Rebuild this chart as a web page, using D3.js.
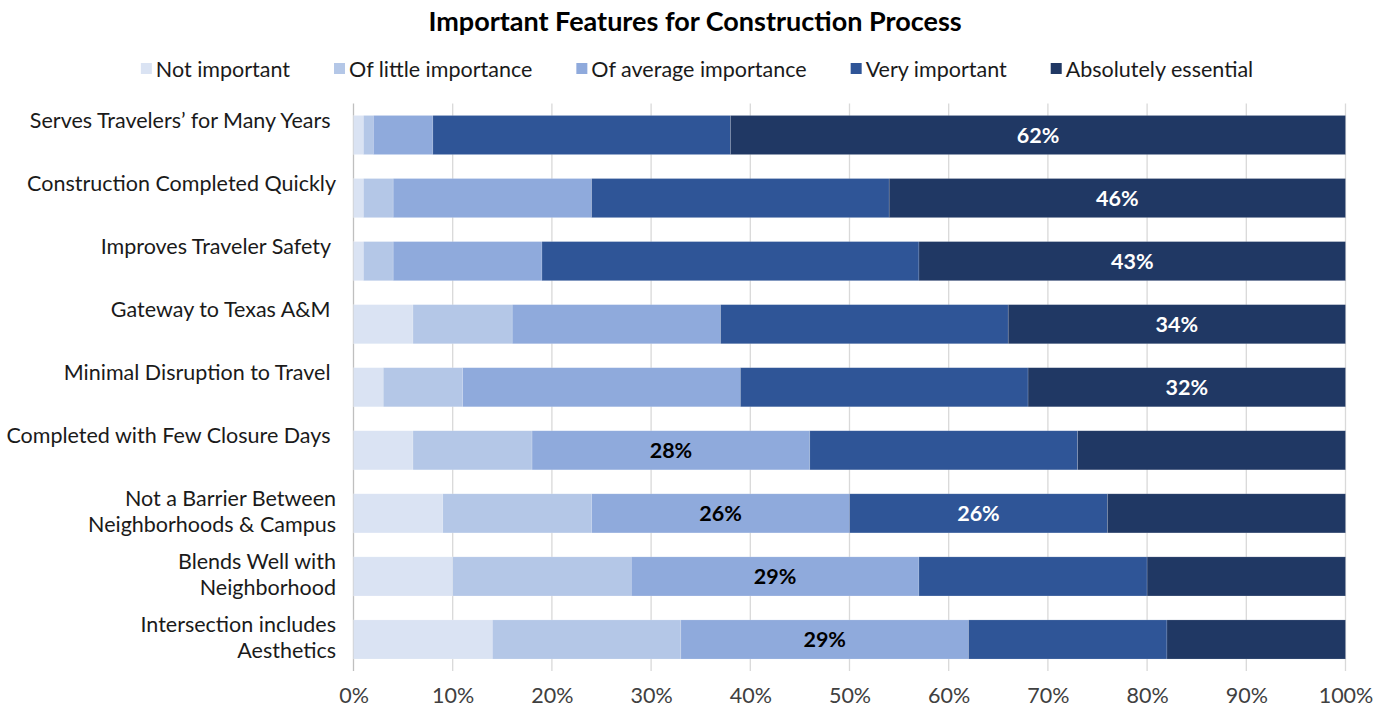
<!DOCTYPE html>
<html>
<head>
<meta charset="utf-8">
<script src="https://cdn.jsdelivr.net/npm/d3@7"></script>
<style>
  body { margin: 0; background: #fff; }
  svg text { font-family: Lato, "Open Sans", sans-serif; }
</style>
</head>
<body>
<div id="chart"></div>
<script>
const width = 1390;
const height = 710;

// categories, top to bottom (multi-line labels split with "\n")
const categories = [
    "Serves Travelers\u2019 for Many Years ",
    "Construction Completed Quickly",
    "Improves Traveler Safety ",
    "Gateway to Texas A&M ",
    "Minimal Disruption to Travel ",
    "Completed with Few Closure Days ",
    "Not a Barrier Between\nNeighborhoods & Campus",
    "Blends Well with\nNeighborhood",
    "Intersection includes\nAesthetics"
];

const seriesNames = ["Not important", "Of little importance", "Of average importance", "Very important", "Absolutely essential"];
const colors = ["#DAE3F3", "#B4C7E7", "#8FAADC", "#2F5597", "#203864"];

// percent values per series, same order as categories
const notImportant = [1, 1, 1, 6, 3, 6, 9, 10, 14];
const littleImportance = [1, 3, 3, 10, 8, 12, 15, 18, 19];
const averageImportance = [6, 20, 15, 21, 28, 28, 26, 29, 29];
const veryImportant = [30, 30, 38, 29, 29, 27, 26, 23, 20];
const absolutelyEssential = [62, 46, 43, 34, 32, 27, 24, 20, 18];

const xTicks = [0, 10, 20, 30, 40, 50, 60, 70, 80, 90, 100];

const series = [notImportant, littleImportance, averageImportance, veryImportant, absolutelyEssential];

const table = categories.map((c, i) => {
    const row = { cat: c };
    seriesNames.forEach((s, j) => row[s] = series[j][i]);
    return row;
});

const stacked = d3.stack().keys(seriesNames)(table);

const margin = { top: 103.5, right: 45, bottom: 39, left: 353.5 };
const fontSize = 21.5;

const svg = d3.select("#chart")
    .append("svg")
    .attr("width", width)
    .attr("height", height);

const x = d3.scaleLinear().domain([0, 100]).range([margin.left, width - margin.right + 0.5]);
const y = d3.scaleBand().domain(categories).range([margin.top, height - margin.bottom]).paddingInner(0.38).paddingOuter(0.19);

// gridlines
svg.append("g")
    .selectAll("line")
    .data(xTicks)
    .join("line")
    .attr("x1", d => x(d))
    .attr("x2", d => x(d))
    .attr("y1", margin.top)
    .attr("y2", height - margin.bottom)
    .attr("stroke", d => d === 0 ? "#bfbfbf" : "#d9d9d9")
    .attr("stroke-width", 1.3);

// bars
const layers = svg.append("g")
    .selectAll("g")
    .data(stacked)
    .join("g")
    .attr("fill", (d, i) => colors[i]);

layers.selectAll("rect")
    .data(d => d)
    .join("rect")
    .attr("x", d => x(d[0]))
    .attr("y", d => y(d.data.cat))
    .attr("width", d => x(d[1]) - x(d[0]))
    .attr("height", y.bandwidth())
    .attr("stroke", "#ffffff")
    .attr("stroke-opacity", 0.25)
    .attr("stroke-width", 0.6);

// labels on the largest segment of each row
stacked.forEach((layer, j) => {
    svg.append("g")
        .selectAll("text")
        .data(layer.filter(d => {
            const row = d.data;
            const mx = d3.max(seriesNames, s => row[s]);
            return row[seriesNames[j]] === mx;
        }))
        .join("text")
        .attr("x", d => (x(d[0]) + x(d[1])) / 2)
        .attr("y", d => y(d.data.cat) + y.bandwidth() / 2)
        .attr("dy", "0.36em")
        .attr("text-anchor", "middle")
        .attr("font-size", fontSize)
        .attr("font-weight", "bold")
        .attr("fill", j >= 3 ? "#ffffff" : "#000000")
        .text(d => d.data[seriesNames[j]] + "%");
});

// x axis
const xAxis = svg.append("g")
    .attr("transform", `translate(0,${height - margin.bottom})`)
    .call(d3.axisBottom(x).tickValues(xTicks).tickFormat(d => d + "%").tickSize(0).tickPadding(17));
xAxis.select(".domain").remove();
xAxis.selectAll("text")
    .attr("font-size", fontSize)
    .attr("fill", "#404040")
    .style("font-family", "Lato, sans-serif");

// category labels
const catLabels = svg.append("g")
    .selectAll("text")
    .data(categories)
    .join("text")
    .attr("text-anchor", "end")
    .attr("font-size", fontSize)
    .attr("fill", "#1a1a1a")
    .attr("xml:space", "preserve")
    .style("white-space", "pre");

catLabels.each(function(d) {
    const lines = d.split("\n");
    const cy = y(d) + y.bandwidth() / 2 - 2;
    const t = d3.select(this);
    lines.forEach((line, k) => {
        t.append("tspan")
            .attr("x", 336)
            .attr("y", cy - 13 + k * 26)
            .attr("dy", "0.36em")
            .text(line);
    });
});

// title
svg.append("text")
    .attr("x", width / 2)
    .attr("y", 31)
    .attr("text-anchor", "middle")
    .attr("font-size", 27)
    .attr("font-weight", "bold")
    .attr("fill", "#000")
    .text("Important Features for Construction Process");

// legend
const legend = svg.append("g");
let lx = 0;
seriesNames.forEach((s, i) => {
    const g = legend.append("g").attr("transform", `translate(${lx},0)`);
    g.append("rect")
        .attr("x", 0)
        .attr("y", -6)
        .attr("width", 11)
        .attr("height", 11)
        .attr("fill", colors[i]);
    const t = g.append("text")
        .attr("x", 15)
        .attr("y", 0)
        .attr("dy", "0.36em")
        .attr("font-size", fontSize)
        .attr("fill", "#1a1a1a")
        .text(s);
    lx += 15 + t.node().getComputedTextLength() + 44;
});
const legendWidth = lx - 44;
legend.attr("transform", `translate(${(width - legendWidth) / 2 + 2},69)`);
</script>
</body>
</html>
